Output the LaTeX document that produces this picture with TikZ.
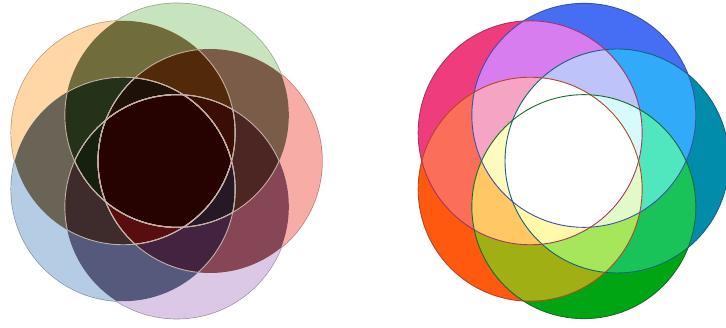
\documentclass[tikz,border=0pt]{standalone}
\begin{document}
\begin{tikzpicture}[x=1pt,y=1pt]
\useasboundingbox (0,0) rectangle (726,328);
\fill[white] (0,0) rectangle (726,328);
\def\R{112pt}
% ---------- colours, left picture ----------
\definecolor{LS0}{RGB}{248,172,166}
\definecolor{LS1}{RGB}{200,228,190}
\definecolor{LS2}{RGB}{255,214,165}
\definecolor{LS3}{RGB}{180,205,228}
\definecolor{LS4}{RGB}{218,200,230}
\definecolor{LP0}{RGB}{122,92,72}
\definecolor{LP1}{RGB}{112,108,60}
\definecolor{LP2}{RGB}{105,100,85}
\definecolor{LP3}{RGB}{85,90,125}
\definecolor{LP4}{RGB}{135,70,85}
\definecolor{LT0}{RGB}{75,38,35}
\definecolor{LT1}{RGB}{82,42,10}
\definecolor{LT2}{RGB}{35,50,25}
\definecolor{LT3}{RGB}{62,44,45}
\definecolor{LT4}{RGB}{68,35,65}
\definecolor{LQ0}{RGB}{22,32,14}
\definecolor{LQ1}{RGB}{88,14,14}
\definecolor{LQ2}{RGB}{38,24,36}
\definecolor{LQ3}{RGB}{58,14,4}
\definecolor{LQ4}{RGB}{30,18,8}
\definecolor{LA}{RGB}{38,2,0}
\definecolor{LINE}{RGB}{196,176,165}
% ---------- colours, right picture ----------
\definecolor{RS0}{RGB}{0,140,170}
\definecolor{RS1}{RGB}{70,110,245}
\definecolor{RS2}{RGB}{238,60,125}
\definecolor{RS3}{RGB}{255,88,15}
\definecolor{RS4}{RGB}{0,165,20}
\definecolor{RP0}{RGB}{50,170,250}
\definecolor{RP1}{RGB}{215,125,240}
\definecolor{RP2}{RGB}{250,110,90}
\definecolor{RP3}{RGB}{160,175,20}
\definecolor{RP4}{RGB}{25,195,90}
\definecolor{RT0}{RGB}{80,230,190}
\definecolor{RT1}{RGB}{190,195,250}
\definecolor{RT2}{RGB}{245,165,195}
\definecolor{RT3}{RGB}{255,200,100}
\definecolor{RT4}{RGB}{165,230,90}
\definecolor{RQ0}{RGB}{255,250,190}
\definecolor{RQ1}{RGB}{255,250,170}
\definecolor{RQ2}{RGB}{225,250,200}
\definecolor{RQ3}{RGB}{215,250,250}
\definecolor{RQ4}{RGB}{255,255,255}
\definecolor{RA}{RGB}{255,255,255}
\definecolor{RO0}{RGB}{20,100,120}
\definecolor{RO1}{RGB}{60,80,170}
\definecolor{RO2}{RGB}{170,50,100}
\definecolor{RO3}{RGB}{180,70,40}
\definecolor{RO4}{RGB}{20,110,40}
\tikzset{
  edgeline/.style={line width=1.4pt},
  innerline/.style={draw=LINE, line width=0.9pt},
  rimline/.style={line width=0.9pt}
}
% ---------- centres ----------
\foreach \i in {0,...,4} {
  \coordinate (L\i) at ({162+48*cos(72*\i)},{167+48*sin(72*\i)});
  \coordinate (R\i) at ({569+48*cos(72*\i)},{167+48*sin(72*\i)});
}
% ---------- soft outer rims of the left picture (inner halves get covered) ----------
\foreach \i in {0,...,4} \draw[edgeline, draw=LS\i!72!black] (L\i) circle[radius=\R];
% ---------- regions, both pictures ----------
\foreach \P in {L,R} {
  % single circles
  \foreach \i in {0,...,4} \fill[\P S\i] (\P\i) circle[radius=\R];
  % adjacent pairs {i,i+1}
  \foreach \i in {0,...,4} {
    \pgfmathtruncatemacro{\j}{mod(\i+1,5)}
    \begin{scope}\clip (\P\i) circle[radius=\R]; \fill[\P P\i] (\P\j) circle[radius=\R];\end{scope}
  }
  % triples {i-1,i,i+1}
  \foreach \i in {0,...,4} {
    \pgfmathtruncatemacro{\h}{mod(\i+4,5)}
    \pgfmathtruncatemacro{\j}{mod(\i+1,5)}
    \begin{scope}\clip (\P\h) circle[radius=\R]; \clip (\P\i) circle[radius=\R];
      \fill[\P T\i] (\P\j) circle[radius=\R];\end{scope}
  }
  % quadruples (all but i)
  \foreach \i in {0,...,4} {
    \pgfmathtruncatemacro{\a}{mod(\i+1,5)}
    \pgfmathtruncatemacro{\b}{mod(\i+2,5)}
    \pgfmathtruncatemacro{\c}{mod(\i+3,5)}
    \pgfmathtruncatemacro{\e}{mod(\i+4,5)}
    \begin{scope}\clip (\P\a) circle[radius=\R]; \clip (\P\b) circle[radius=\R];
      \clip (\P\c) circle[radius=\R]; \fill[\P Q\i] (\P\e) circle[radius=\R];\end{scope}
  }
  % all five
  \begin{scope}\clip (\P0) circle[radius=\R]; \clip (\P1) circle[radius=\R];
    \clip (\P2) circle[radius=\R]; \clip (\P3) circle[radius=\R];
    \fill[\P A] (\P4) circle[radius=\R];\end{scope}
}
% ---------- inner light outlines, left picture ----------
\foreach \i in {0,...,4} {
  \foreach \j in {0,...,4} {
    \foreach \k in {0,...,4} {
      \pgfmathtruncatemacro{\ok}{(\j<\k)&&(\j!=\i)&&(\k!=\i)}
      \ifnum\ok=1
        \begin{scope}\clip (L\j) circle[radius=\R]; \clip (L\k) circle[radius=\R];
          \draw[innerline] (L\i) circle[radius=\R];\end{scope}
      \fi
    }
  }
}
% ---------- outlines, right picture ----------
\foreach \i in {0,...,4} \draw[rimline, draw=RO\i] (R\i) circle[radius=\R];
\end{tikzpicture}
\end{document}
